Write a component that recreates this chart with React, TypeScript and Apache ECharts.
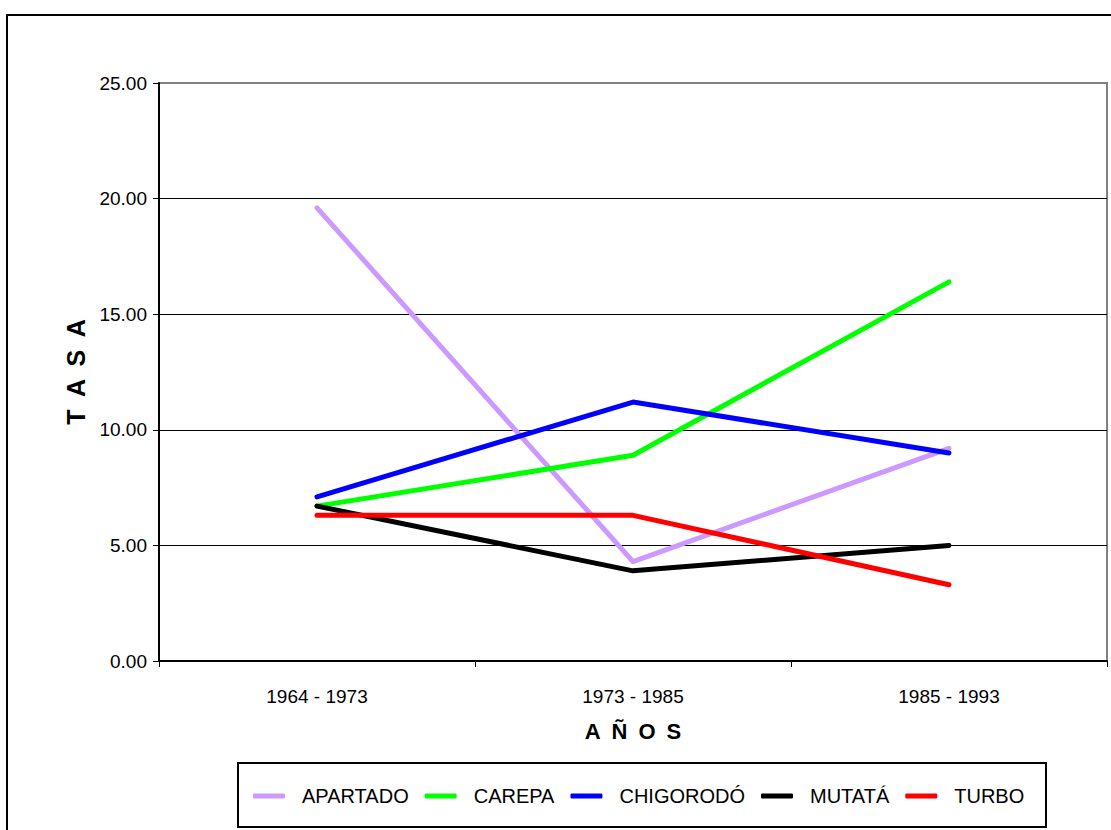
import React, { useEffect, useRef } from "react";
import * as echarts from "echarts";

const categories = ["1964 - 1973", "1973 - 1985", "1985 - 1993"];
const apartado = [19.6, 4.3, 9.2];
const carepa = [6.7, 8.9, 16.4];
const chigorodo = [7.1, 11.2, 9.0];
const mutata = [6.7, 3.9, 5.0];
const turbo = [6.3, 6.3, 3.3];

const seriesNames = ["APARTADO", "CAREPA", "CHIGORODÓ", "MUTATÁ", "TURBO"];
const seriesData = [apartado, carepa, chigorodo, mutata, turbo];
const seriesColors = ["#CC99FF", "#00FF00", "#0000FF", "#000000", "#FF0000"];

const FONT = "'Liberation Sans', Arial, sans-serif";

export default function App() {
  const ref = useRef<HTMLDivElement>(null);
  useEffect(() => {
    if (!ref.current) return;
    const chart = echarts.init(ref.current, undefined, { renderer: "svg" });
    chart.setOption({
      animation: false,
      backgroundColor: "#ffffff",
      textStyle: { fontFamily: FONT },
      graphic: [
        {
          type: "rect",
          shape: { x: 7, y: 15, width: 1130, height: 840 },
          style: { fill: "none", stroke: "#000", lineWidth: 2 },
          z: 0,
        },
        {
          type: "rect",
          shape: { x: 238, y: 763, width: 808, height: 64 },
          style: { fill: "#fff", stroke: "#000", lineWidth: 2 },
          z: 0,
        },
      ],
      grid: {
        left: 159,
        top: 83,
        right: 4,
        bottom: 169,
        show: true,
        borderColor: "#808080",
        borderWidth: 2,
        backgroundColor: "transparent",
      },
      legend: {
        data: seriesNames,
        left: 253,
        top: 786,
        orient: "horizontal",
        icon: "roundRect",
        itemWidth: 32,
        itemHeight: 5,
        itemGap: 16,
        padding: 0,
        textStyle: {
          fontFamily: FONT,
          fontSize: 20,
          color: "#000",
          padding: [0, 0, 0, 12],
        },
        z: 5,
      },
      xAxis: {
        type: "category",
        data: categories,
        boundaryGap: true,
        name: "A\u2002Ñ\u2002O\u2002S",
        nameLocation: "middle",
        nameGap: 59,
        nameTextStyle: { fontFamily: FONT, fontSize: 22, fontWeight: "bold", color: "#000" },
        axisLine: { show: true, lineStyle: { color: "#000", width: 2 } },
        axisTick: { show: true, alignWithLabel: false, length: 6, lineStyle: { color: "#000", width: 1 } },
        axisLabel: { fontFamily: FONT, fontSize: 19, color: "#000", margin: 26 },
        splitLine: { show: false },
      },
      yAxis: {
        type: "value",
        min: 0,
        max: 25,
        interval: 5,
        name: "T\u2002A\u2002S\u2002A",
        nameLocation: "middle",
        nameRotate: 90,
        nameGap: 70,
        nameTextStyle: { fontFamily: FONT, fontSize: 25, fontWeight: "bold", color: "#000" },
        axisLine: { show: true, lineStyle: { color: "#000", width: 2 } },
        axisTick: { show: true, length: 6, lineStyle: { color: "#000", width: 1 } },
        axisLabel: {
          fontFamily: FONT,
          fontSize: 19,
          color: "#000",
          margin: 12,
          formatter: (v: number) => v.toFixed(2),
        },
        splitLine: {
          show: true,
          showMinLine: false,
          showMaxLine: false,
          lineStyle: { color: "#000", width: 1 },
        },
      },
      series: seriesNames.map((name, i) => ({
        name,
        type: "line",
        data: seriesData[i],
        symbol: "none",
        showSymbol: false,
        color: seriesColors[i],
        lineStyle: { color: seriesColors[i], width: 5, cap: "round", join: "round" },
        itemStyle: { color: seriesColors[i] },
        z: 3,
      })),
    });
    return () => chart.dispose();
  }, []);
  return (
    <div
      ref={ref}
      style={{ position: "fixed", left: 0, top: 0, width: 1111, height: 830, background: "#fff" }}
    />
  );
}
